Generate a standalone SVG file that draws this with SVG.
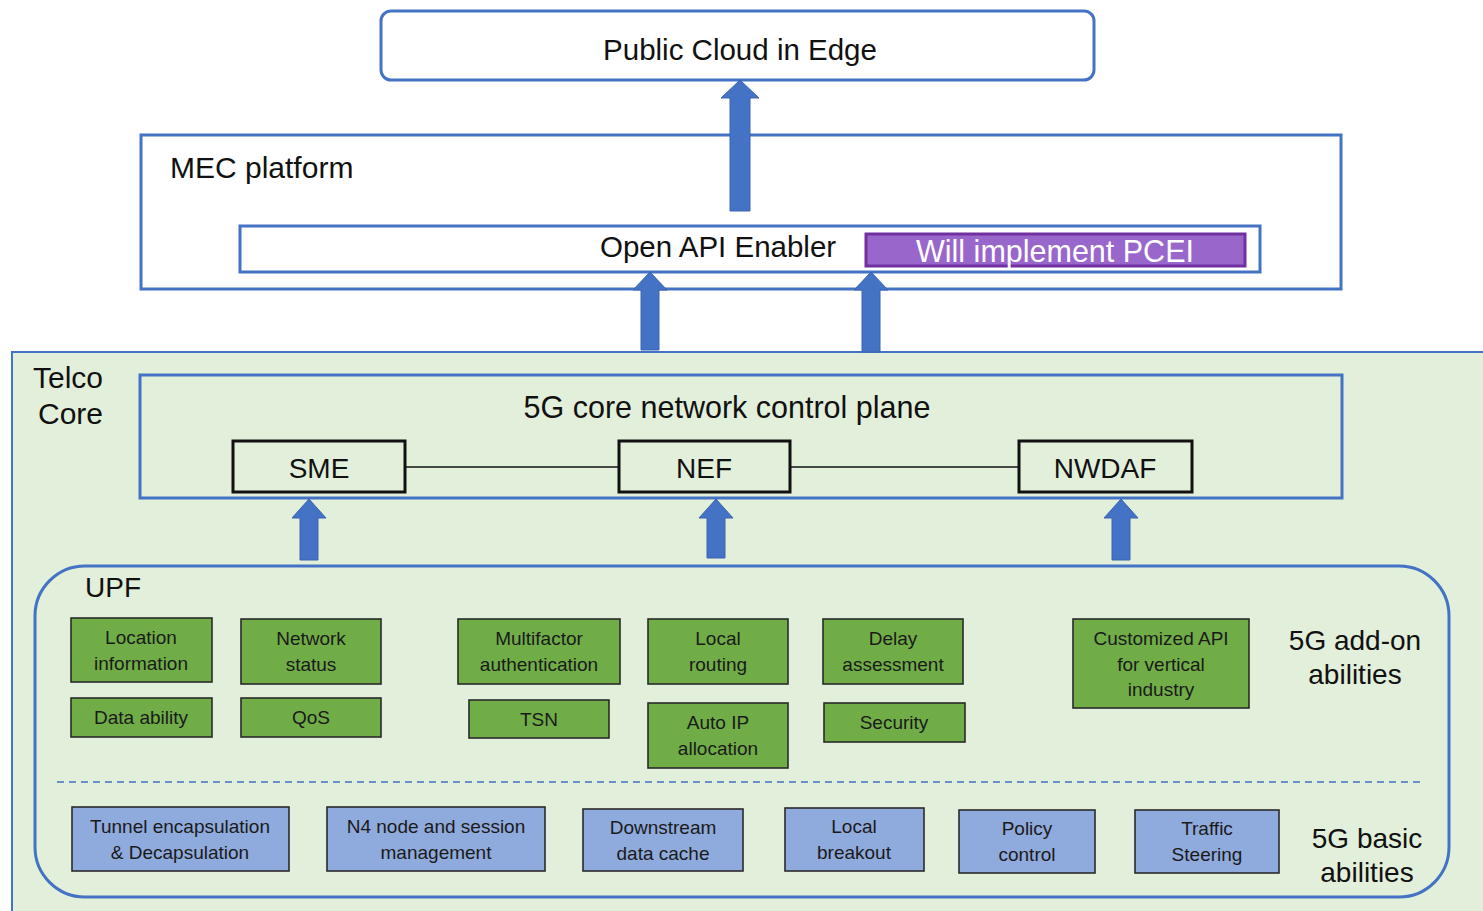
<svg xmlns="http://www.w3.org/2000/svg" width="1483" height="911" viewBox="0 0 1483 911">
  <defs>
    <style>
      .t { font-family: "Liberation Sans", Arial, sans-serif; fill: #111; }
      .big { font-size: 28px; }
      .small { font-size: 19px; fill: #1a1a1a; }
      .frame { fill: none; stroke: #4472C4; stroke-width: 3; }
      .nf { fill: none; stroke: #111; stroke-width: 3; }
      .g { fill: #70AD47; stroke: #2a2a2a; stroke-width: 1.6; }
      .b { fill: #8FAADC; stroke: #2a2a2a; stroke-width: 1.6; }
      .arrow { fill: #4472C4; stroke: #3A64B0; stroke-width: 1; }
      .link { stroke: #111; stroke-width: 1.6; }
    </style>
  </defs>

  <rect width="1483" height="911" fill="#ffffff"/>

  <!-- Public cloud -->
  <g id="public-cloud">
    <rect x="381" y="11" width="713" height="69" rx="10" class="frame"/>
    <text x="740" y="60" text-anchor="middle" class="t" font-size="29.5">Public Cloud in Edge</text>
  </g>

  <!-- MEC platform -->
  <g id="mec-platform">
    <rect x="141" y="135" width="1200" height="154" class="frame"/>
    <text x="170" y="178" class="t" font-size="30">MEC platform</text>
  </g>

  <g id="open-api-enabler">
    <rect x="240" y="226" width="1020" height="46" class="frame"/>
    <text x="600" y="257" class="t" font-size="29.5">Open API Enabler</text>
  </g>

  <g id="pcei">
    <rect x="866" y="234" width="379" height="32" fill="#9966CC" stroke="#7030A0" stroke-width="3"/>
    <text x="1055" y="262" text-anchor="middle" class="t" font-size="30.5" style="fill:#ffffff">Will implement PCEI</text>
  </g>

  <!-- Telco core area -->
  <g id="telco-core">
    <rect x="12" y="352" width="1480" height="570" fill="#E2EFDA" stroke="#4472C4" stroke-width="2"/>
    <text x="33" y="388" class="t" font-size="30">Telco</text>
    <text x="38" y="424" class="t" font-size="30">Core</text>
  </g>

  <g id="control-plane">
    <rect x="140" y="375" width="1202" height="123" class="frame"/>
    <text x="727" y="418" text-anchor="middle" class="t" font-size="30.5">5G core network control plane</text>
  </g>

  <!-- Connectors -->
  <g id="connectors">
    <line x1="405" y1="467" x2="619" y2="467" class="link"/>
    <line x1="790" y1="467" x2="1019" y2="467" class="link"/>
    <path class="arrow" d="M740,80 L759,98 L750,98 L750,211 L730,211 L730,98 L721,98 Z"/>
    <path class="arrow" d="M650,272 L667,290 L659,290 L659,350 L641,350 L641,290 L633,290 Z"/>
    <path class="arrow" d="M871,272 L888,290 L880,290 L880,352 L862,352 L862,290 L854,290 Z"/>
    <path class="arrow" d="M309,499 L326,518 L318,518 L318,560 L300,560 L300,518 L292,518 Z"/>
    <path class="arrow" d="M716,499 L733,518 L725,518 L725,558 L707,558 L707,518 L699,518 Z"/>
    <path class="arrow" d="M1121,499 L1138,518 L1130,518 L1130,560 L1112,560 L1112,518 L1104,518 Z"/>
  </g>

  <g id="sme">
    <rect x="233" y="441" width="172" height="51" class="nf"/>
    <text x="319" y="478" text-anchor="middle" class="t big">SME</text>
  </g>
  <g id="nef">
    <rect x="619" y="441" width="171" height="51" class="nf"/>
    <text x="704" y="478" text-anchor="middle" class="t big">NEF</text>
  </g>
  <g id="nwdaf">
    <rect x="1019" y="441" width="173" height="51" class="nf"/>
    <text x="1105" y="478" text-anchor="middle" class="t big">NWDAF</text>
  </g>

  <!-- UPF -->
  <g id="upf">
    <rect x="35" y="566" width="1414" height="331" rx="50" class="frame"/>
    <text x="85" y="597" class="t big">UPF</text>
    <line x1="57" y1="782" x2="1420" y2="782" stroke="#4472C4" stroke-width="1.5" stroke-dasharray="7 5"/>
    <text x="1355" y="650" text-anchor="middle" class="t big">5G add-on</text>
    <text x="1355" y="684" text-anchor="middle" class="t big">abilities</text>
    <text x="1367" y="848" text-anchor="middle" class="t big">5G basic</text>
    <text x="1367" y="882" text-anchor="middle" class="t big">abilities</text>
  </g>

  <!-- Add-on abilities -->
  <g id="location-information">
    <rect x="71" y="618" width="141" height="64" class="g"/>
    <text x="141" y="644" text-anchor="middle" class="t small">Location</text>
    <text x="141" y="670" text-anchor="middle" class="t small">information</text>
  </g>
  <g id="network-status">
    <rect x="241" y="619" width="140" height="65" class="g"/>
    <text x="311" y="645" text-anchor="middle" class="t small">Network</text>
    <text x="311" y="671" text-anchor="middle" class="t small">status</text>
  </g>
  <g id="multifactor-authentication">
    <rect x="458" y="619" width="162" height="65" class="g"/>
    <text x="539" y="645" text-anchor="middle" class="t small">Multifactor</text>
    <text x="539" y="671" text-anchor="middle" class="t small">authentication</text>
  </g>
  <g id="local-routing">
    <rect x="648" y="619" width="140" height="65" class="g"/>
    <text x="718" y="645" text-anchor="middle" class="t small">Local</text>
    <text x="718" y="671" text-anchor="middle" class="t small">routing</text>
  </g>
  <g id="delay-assessment">
    <rect x="823" y="619" width="140" height="65" class="g"/>
    <text x="893" y="645" text-anchor="middle" class="t small">Delay</text>
    <text x="893" y="671" text-anchor="middle" class="t small">assessment</text>
  </g>
  <g id="customized-api">
    <rect x="1073" y="619" width="176" height="89" class="g"/>
    <text x="1161" y="645" text-anchor="middle" class="t small">Customized API</text>
    <text x="1161" y="671" text-anchor="middle" class="t small">for vertical</text>
    <text x="1161" y="696" text-anchor="middle" class="t small">industry</text>
  </g>
  <g id="data-ability">
    <rect x="71" y="698" width="141" height="39" class="g"/>
    <text x="141" y="724" text-anchor="middle" class="t small">Data ability</text>
  </g>
  <g id="qos">
    <rect x="241" y="698" width="140" height="39" class="g"/>
    <text x="311" y="724" text-anchor="middle" class="t small">QoS</text>
  </g>
  <g id="tsn">
    <rect x="469" y="700" width="140" height="38" class="g"/>
    <text x="539" y="726" text-anchor="middle" class="t small">TSN</text>
  </g>
  <g id="auto-ip-allocation">
    <rect x="648" y="703" width="140" height="65" class="g"/>
    <text x="718" y="729" text-anchor="middle" class="t small">Auto IP</text>
    <text x="718" y="755" text-anchor="middle" class="t small">allocation</text>
  </g>
  <g id="security">
    <rect x="824" y="703" width="141" height="39" class="g"/>
    <text x="894" y="729" text-anchor="middle" class="t small">Security</text>
  </g>

  <!-- Basic abilities -->
  <g id="tunnel-encapsulation">
    <rect x="72" y="807" width="217" height="64" class="b"/>
    <text x="180" y="833" text-anchor="middle" class="t small">Tunnel encapsulation</text>
    <text x="180" y="859" text-anchor="middle" class="t small">&amp; Decapsulation</text>
  </g>
  <g id="n4-node-session">
    <rect x="327" y="807" width="218" height="64" class="b"/>
    <text x="436" y="833" text-anchor="middle" class="t small">N4 node and session</text>
    <text x="436" y="859" text-anchor="middle" class="t small">management</text>
  </g>
  <g id="downstream-data-cache">
    <rect x="583" y="809" width="160" height="62" class="b"/>
    <text x="663" y="834" text-anchor="middle" class="t small">Downstream</text>
    <text x="663" y="860" text-anchor="middle" class="t small">data cache</text>
  </g>
  <g id="local-breakout">
    <rect x="785" y="808" width="139" height="63" class="b"/>
    <text x="854" y="833" text-anchor="middle" class="t small">Local</text>
    <text x="854" y="859" text-anchor="middle" class="t small">breakout</text>
  </g>
  <g id="policy-control">
    <rect x="959" y="810" width="136" height="63" class="b"/>
    <text x="1027" y="835" text-anchor="middle" class="t small">Policy</text>
    <text x="1027" y="861" text-anchor="middle" class="t small">control</text>
  </g>
  <g id="traffic-steering">
    <rect x="1135" y="810" width="144" height="63" class="b"/>
    <text x="1207" y="835" text-anchor="middle" class="t small">Traffic</text>
    <text x="1207" y="861" text-anchor="middle" class="t small">Steering</text>
  </g>
</svg>
